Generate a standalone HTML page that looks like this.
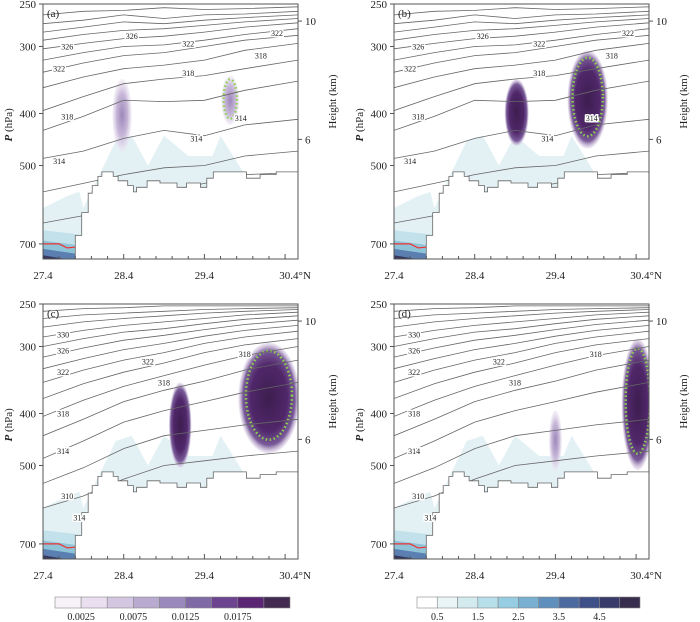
<!DOCTYPE html>
<html><head><meta charset="utf-8">
<style>
html,body{margin:0;padding:0;background:#fff;}
svg{display:block;}
text{font-family:"Liberation Serif",serif;}
</style></head>
<body>
<svg id="fig" width="700" height="622" viewBox="0 0 700 622" xmlns="http://www.w3.org/2000/svg">
<defs>
<radialGradient id="gp" cx="50%" cy="50%" r="50%">
<stop offset="0" stop-color="#3d1e4f"/><stop offset="0.6" stop-color="#50276a"/><stop offset="0.85" stop-color="#7a5b99"/><stop offset="1" stop-color="#e6dcee" stop-opacity="0.5"/></radialGradient>
<radialGradient id="gl" cx="50%" cy="50%" r="50%">
<stop offset="0" stop-color="#9d87b9"/><stop offset="0.6" stop-color="#c8b8d9"/><stop offset="1" stop-color="#ece4f2" stop-opacity="0.5"/></radialGradient>
</defs>
</svg>
<script>
// ---- data ----
const lats=[27.4,27.9,28.4,28.9,29.4,29.9,30.56];
const xTicks=[27.4,28.4,29.4,30.4];
const xTickLabels=["27.4","28.4","29.4","30.4°N"];
const pTicks=[250,300,400,500,700];
const hTicks=[{p:269,h:"10"},{p:447,h:"6"}];
const terrainLat=[27.4,27.8,27.8,27.88,27.88,27.96,27.96,28.01,28.01,28.08,28.08,28.13,28.13,28.27,28.27,28.33,28.33,28.45,28.45,28.52,28.52,28.56,28.56,28.69,28.69,28.85,28.85,29.06,29.06,29.18,29.18,29.35,29.35,29.43,29.43,29.51,29.51,29.92,29.92,30.09,30.09,30.29,30.29,30.56];
const terrainP=[750,750,675,675,612,612,563,563,545,545,524,524,514,514,524,524,534,534,545,545,560,560,549,549,534,534,539,539,549,549,539,539,549,549,528,528,514,514,528,528,520,520,514,514];
const contoursA=[[262,258,257,254,256,255,253],[272,268,262,266,262,261,258],[282,276,270,272,268,265,262],[292,285,280,278,274,270,266],[303,296,290,287,282,276,271],[318,308,300,298,292,285,278],[335,322,312,308,300,292,286],[358,342,330,325,318,305,296],[395,372,352,345,340,330,318],[430,405,378,380,378,362,348],[485,470,445,430,440,420,410],[560,540,520,505,500,480,470],[640,620,600,560,540,520,515]];
const contoursC=[[258,255,254,252,252,252,252],[266,262,260,258,256,255,254],[276,270,266,263,260,258,256],[288,280,274,270,266,262,259],[300,290,282,278,272,267,263],[314,302,292,286,279,273,268],[330,316,304,296,287,280,274],[350,332,318,308,296,288,281],[375,352,335,322,308,298,290],[405,378,356,340,325,312,300],[440,410,380,362,348,332,318],[485,450,415,395,380,365,350],[540,505,465,440,430,420,410],[600,570,530,500,490,480,470]];
const labelsA=[["326",27.7,300],["326",28.5,287],["322",27.6,330],["322",29.2,296],["322",30.3,283],["318",27.7,405],["318",29.2,336],["318",30.1,312],["314",27.6,490],["314",29.3,445],["314",29.85,408]];
const labelsC=[["330",27.65,285],["326",27.65,305],["322",27.65,335],["322",28.7,320],["318",28.9,350],["318",29.9,310],["318",27.65,400],["314",27.65,470],["310",27.7,570],["314",27.85,625]];
// blobs: lat, p, half-width(deg), top p, bottom p, kind (1 dark,0 light), green dots
const blobsA=[[28.38,395,0.12,345,470,0,0],[29.72,372,0.11,340,420,0,1]];
const blobsB=[[28.92,400,0.15,345,460,1,0],[29.8,372,0.25,305,465,1,1]];
const blobsC=[[29.1,425,0.14,350,505,1,0],[30.2,370,0.38,295,475,1,1]];
const blobsD=[[29.4,460,0.08,395,510,0,0],[30.42,375,0.2,290,510,1,1]];
const blueA=[[27.9,28.3,28.5,28.7,28.9,29.2,29.5,29.6,29.9],[600,450,440,500,440,480,480,440,520]];
const panels=[{id:"a",dx:0,dy:0,c:contoursA,l:labelsA,b:blobsA},{id:"b",dx:351,dy:0,c:contoursA,l:labelsA,b:blobsB},{id:"c",dx:0,dy:300,c:contoursC,l:labelsC,b:blobsC},{id:"d",dx:351,dy:300,c:contoursC,l:labelsC,b:blobsD}];
const purpleColors=["#f7f2f7","#eadff0","#d3c6e0","#b9abd0","#9a89bd","#7f6aa6","#6c448f","#5a2673","#432a50"];
const purpleLabels=["0.0025","0.0075","0.0125","0.0175"];
const blueColors=["#ffffff","#e9f4f7","#d3ebef","#b7dfe9","#97cde2","#79afd0","#5f8fbd","#4d6aa0","#3f4f87","#393c6a","#372d4c"];
const blueLabels=["0.5","1.5","2.5","3.5","4.5"];
// ---- scales ----
const X0=43,PX=80.7,Y0=4,PY=233;
const xs=(lat)=>X0+(lat-27.4)*PX;
const ys=(p)=>Y0+Math.log(p/250)*PY;
const NS="http://www.w3.org/2000/svg";
const svg=document.getElementById("fig");
function mk(tag,attrs,parent){const e=document.createElementNS(NS,tag);for(const k in attrs)e.setAttribute(k,attrs[k]);(parent||svg).appendChild(e);return e;}
const R=298,B=259;
const SERIF="Liberation Serif, serif";
panels.forEach(pn=>{
  const g=mk("g",{transform:`translate(${pn.dx},${pn.dy})`});
  
  
  const clipId="clip"+pn.id;
  const cp=mk("clipPath",{id:clipId},g);mk("rect",{x:X0,y:Y0,width:R-X0,height:B-Y0},cp);
  const inner=mk("g",{"clip-path":`url(#${clipId})`},g);
  let d=`M${xs(27.4)},${ys(600)}`;
  d+=` L${xs(27.7)},${ys(570)} L${xs(27.85)},${ys(560)}`;
  for(let i=0;i<blueA[0].length;i++)d+=` L${xs(blueA[0][i])},${ys(blueA[1][i])}`;
  d+=` L${xs(30.0)},${ys(540)} L${xs(30.0)},${ys(750)} L${xs(27.4)},${ys(750)}Z`;
  const bl=mk("path",{d,fill:"#e3f1f5"},inner);
  
  const gr=[["#c3e1ea",27.4,660,27.95],["#8fc3d8",27.4,690,27.85],["#5a7fb0",27.4,715,27.8],["#38385e",27.4,735,27.75]];
  gr.forEach(s=>{mk("path",{d:`M${xs(s[1])},${ys(s[2])} L${xs(s[3])},${ys(s[2]+15)} L${xs(s[3]+0.02)},${ys(750)} L${xs(27.4)},${ys(750)}Z`,fill:s[0]},inner);});
  pn.b.forEach((b,i)=>{
    const cy=(ys(b[3])+ys(b[4]))/2, ry=(ys(b[4])-ys(b[3]))/2;
    const e=mk("ellipse",{cx:xs(b[0]),cy,rx:b[2]*PX,ry,fill:b[5]?"url(#gp)":"url(#gl)"},inner);
    
    if(b[6]){const gd=mk("ellipse",{cx:xs(b[0]),cy:cy-ry*0.05,rx:b[2]*PX*0.75,ry:ry*0.8,fill:"none",stroke:"#8fd14f","stroke-width":2.5,"stroke-dasharray":"1.5 2.5"},inner);
      }
  });
  pn.c.forEach(c=>{
    let dd="";c.forEach((p,i)=>{dd+=(i?" L":"M")+xs(lats[i]).toFixed(1)+","+ys(p).toFixed(1);});
    const l=mk("path",{d:dd,fill:"none",stroke:"#666","stroke-width":0.8},inner);
    
  });
  let td=`M${xs(terrainLat[0])},${ys(terrainP[0])}`;
  for(let i=1;i<terrainLat.length;i++)td+=` L${xs(terrainLat[i]).toFixed(1)},${ys(terrainP[i]).toFixed(1)}`;
  td+=` L${R},${B} L${xs(27.8)},${B}Z`;
  const tr=mk("path",{d:td,fill:"#fff",stroke:"#666","stroke-width":0.8},inner);
  
  mk("path",{d:`M${xs(27.4)},${ys(700)} L${xs(27.6)},${ys(700)} L${xs(27.7)},${ys(712)} L${xs(27.8)},${ys(710)}`,fill:"none",stroke:"#e33","stroke-width":1.2},inner);
  pn.l.forEach(t=>{
    const tx=mk("text",{x:xs(t[1]),y:ys(t[2])+3,"font-size":8,"text-anchor":"middle",fill:"#222","font-family":"Liberation Sans, sans-serif",stroke:"#fff","stroke-width":3,"paint-order":"stroke"},inner);
    tx.textContent=t[0];
  });
  const fr=mk("rect",{x:X0,y:Y0,width:R-X0,height:B-Y0,fill:"none",stroke:"#555","stroke-width":1},g);
  
  for(let k=0;k<=15;k++){const v=27.4+k*0.2;mk("line",{x1:xs(v),x2:xs(v),y1:B,y2:B-(k%5==0?5:3),stroke:"#555"},g);}
  xTicks.forEach((v,i)=>{const t=mk("text",{x:xs(v)+(i==3?10:0),y:B+20,"font-size":11,"text-anchor":"middle",fill:"#222","font-family":SERIF},g);t.textContent=xTickLabels[i];
    });
  pTicks.forEach(p=>{mk("line",{x1:X0,x2:X0-4,y1:ys(p),y2:ys(p),stroke:"#555"},g);
    const t=mk("text",{x:X0-7,y:ys(p)+4,"font-size":11,"text-anchor":"end",fill:"#222","font-family":SERIF},g);t.textContent=p;
    });
  hTicks.forEach(h=>{mk("line",{x1:R,x2:R+4,y1:ys(h.p),y2:ys(h.p),stroke:"#555"},g);
    const t=mk("text",{x:R+7,y:ys(h.p)+4,"font-size":11,fill:"#222","font-family":SERIF},g);t.textContent=h.h;
    });
  const pl=mk("text",{x:X0+4,y:Y0+13,"font-size":11,fill:"#222","font-family":SERIF},g);pl.textContent=`(${pn.id})`;
  
  const yl=mk("text",{transform:`translate(12,${ys(420)}) rotate(-90)`,"font-size":11,"text-anchor":"middle",fill:"#222","font-family":SERIF},g);
  yl.innerHTML='<tspan font-style="italic" font-weight="bold">P</tspan> (hPa)';
  
  const hl=mk("text",{transform:`translate(${R+38},${ys(380)}) rotate(-90)`,"font-size":11,"text-anchor":"middle",fill:"#222","font-family":SERIF},g);
  hl.textContent="Height (km)";
});
function cbar(x0,w,colors,labels,name){
  const g=mk("g",{});
  const cw=w/colors.length;
  colors.forEach((c,i)=>{mk("rect",{x:x0+i*cw,y:597,width:cw,height:11,fill:c,stroke:"#888","stroke-width":0.6},g);});
  labels.forEach((l,i)=>{const t=mk("text",{x:x0+(1+2*i)*cw,y:620,"font-size":10,"text-anchor":"middle",fill:"#222","font-family":SERIF},g);t.textContent=l;
    });
}
cbar(55,235,purpleColors,purpleLabels,"colorbar-purple");
cbar(417,223,blueColors,blueLabels,"colorbar-blue");
</script>
</body></html>
